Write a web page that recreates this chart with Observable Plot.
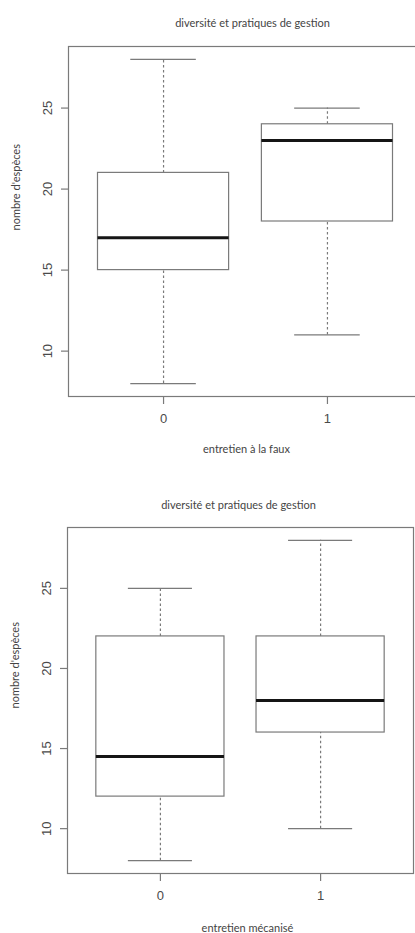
<!DOCTYPE html>
<html>
<head>
<meta charset="utf-8">
<script src="https://cdn.jsdelivr.net/npm/d3@7"></script>
<script src="https://cdn.jsdelivr.net/npm/@observablehq/plot@0.6"></script>
<style>
  html, body { margin: 0; padding: 0; background: #fff; overflow: hidden; }
  #wrap { width: 415px; height: 933px; overflow: hidden; position: relative; }
  .chart { position: absolute; left: 0; }
</style>
</head>
<body>
<div id="wrap">
  <div id="c1" class="chart" style="top:0px"></div>
  <div id="c2" class="chart" style="top:465px"></div>
</div>
<script>
// ---- data ----
const categories = ["0", "1"];
const yTicks = [10, 15, 20, 25];
const chartTitle = "diversité et pratiques de gestion";
const yLabel = "nombre d'espèces";

// chart 1: entretien à la faux
const fauxLabel = "entretien à la faux";
const fauxMin = [8, 11];
const fauxQ1 = [15, 18];
const fauxMedian = [17, 23];
const fauxQ3 = [21, 24];
const fauxMax = [28, 25];

// chart 2: entretien mécanisé
const mecaLabel = "entretien mécanisé";
const mecaMin = [8, 10];
const mecaQ1 = [12, 16];
const mecaMedian = [14.5, 18];
const mecaQ3 = [22, 22];
const mecaMax = [25, 28];

function rows(mn, q1, md, q3, mx) {
  return categories.map((c, i) => ({cat: c, pos: i + 1, min: mn[i], q1: q1[i], med: md[i], q3: q3[i], max: mx[i]}));
}

const gray = "#7a7a7a";
const textGray = "#4a4a4a";
const BOX = 0.4, CAP = 0.2;

function boxChart(data, xLabel, opt) {
  return Plot.plot({
    width: opt.width,
    height: opt.height,
    marginTop: opt.mt,
    marginBottom: opt.mb,
    marginLeft: opt.ml,
    marginRight: opt.mr,
    style: {maxWidth: "none", fontFamily: "Liberation Sans, Arial, sans-serif", fontSize: "13px", color: textGray, background: "#fff"},
    x: {type: "linear", domain: [0.42, 2.58]},
    y: {domain: [7.2, 28.8]},
    marks: [
      Plot.frame({stroke: gray, strokeWidth: 1.2}),
      // whiskers
      Plot.ruleX(data, {x: "pos", y1: "q3", y2: "max", stroke: gray, strokeWidth: 1.2, strokeDasharray: "2.5,2.5"}),
      Plot.ruleX(data, {x: "pos", y1: "min", y2: "q1", stroke: gray, strokeWidth: 1.2, strokeDasharray: "2.5,2.5"}),
      // staples
      Plot.ruleY(data, {y: "max", x1: d => d.pos - CAP, x2: d => d.pos + CAP, stroke: gray, strokeWidth: 1.2}),
      Plot.ruleY(data, {y: "min", x1: d => d.pos - CAP, x2: d => d.pos + CAP, stroke: gray, strokeWidth: 1.2}),
      // boxes
      Plot.rect(data, {x1: d => d.pos - BOX, x2: d => d.pos + BOX, y1: "q1", y2: "q3", fill: "#fff", stroke: gray, strokeWidth: 1.2}),
      // medians
      Plot.ruleY(data, {y: "med", x1: d => d.pos - BOX, x2: d => d.pos + BOX, stroke: "#151515", strokeWidth: 3}),
      // axes
      Plot.axisX({ticks: [1, 2], tickFormat: d => categories[d - 1], tickSize: 8, tickPadding: 9, stroke: gray, strokeWidth: 1.2, fill: textGray, label: null}),
      Plot.axisY({ticks: yTicks, tickSize: 7, tickFormat: () => "", stroke: gray, strokeWidth: 1.2, label: null}),
      Plot.axisY({ticks: yTicks, tickSize: 0, tickPadding: 21, rotate: -90, textAnchor: "middle", fill: textGray, label: null}),
      // labels
      Plot.text([chartTitle], {frameAnchor: "top", dy: opt.titleDy, dx: opt.titleDx, fontFamily: "Lato, Open Sans, sans-serif", fontSize: 11, fill: "#444"}),
      Plot.text([xLabel], {frameAnchor: "bottom", dy: opt.xlabDy, dx: opt.xlabDx, fontFamily: "Lato, Open Sans, sans-serif", fontSize: 11, fill: "#444"}),
      Plot.text([yLabel], {frameAnchor: "left", dx: -52, dy: opt.ylabDy, rotate: -90, fontFamily: "Lato, Open Sans, sans-serif", fontSize: 11, fill: "#444"})
    ]
  });
}

document.getElementById("c1").append(
  boxChart(rows(fauxMin, fauxQ1, fauxMedian, fauxQ3, fauxMax), fauxLabel,
    {width: 424, height: 465, mt: 46, mb: 69, ml: 68, mr: 2, titleDy: -27, titleDx: 7, xlabDy: 56, xlabDx: 1, ylabDy: 9})
);
document.getElementById("c2").append(
  boxChart(rows(mecaMin, mecaQ1, mecaMedian, mecaQ3, mecaMax), mecaLabel,
    {width: 415, height: 468, mt: 62, mb: 60, ml: 67, mr: 2, titleDy: -26, titleDx: -2, xlabDy: 58, xlabDx: 7, ylabDy: 8})
);
</script>
</body>
</html>
